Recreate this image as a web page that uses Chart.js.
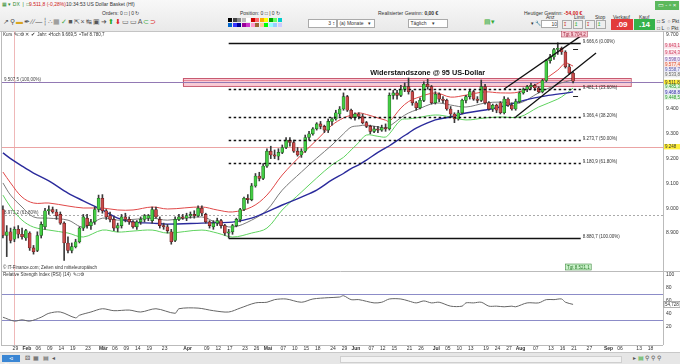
<!DOCTYPE html>
<html><head><meta charset="utf-8">
<script src="https://cdn.jsdelivr.net/npm/chart.js@4.4.1/dist/chart.umd.min.js"></script>
<style>
html,body{margin:0;padding:0;width:680px;height:364px;overflow:hidden;background:#fff;font-family:"Liberation Sans",Arial,sans-serif;}
#top{position:absolute;left:0;top:0;width:680px;height:31px;background:linear-gradient(#f8f8f8,#e9e9e9);border-bottom:1px solid #c4c4c4;}
.t{position:absolute;font-size:5px;line-height:6px;white-space:nowrap;color:#333;}
.box{position:absolute;background:#fff;border:1px solid #aaa;font-size:5px;line-height:6px;color:#333;}
.ic{position:absolute;font-size:7px;line-height:8px;white-space:nowrap;}
#wrap{position:absolute;left:0;top:31px;width:680px;height:321px;}
#bot{position:absolute;left:0;top:352px;width:680px;height:12px;background:#e6e6e6;border-top:1px solid #c8c8c8;}
</style></head><body>
<div id="top">
  <div class="t" style="left:2px;top:1px;color:#2a8a2a;">&#9638; &#9662; DX &nbsp;|&nbsp; &#9633;</div>
  <div class="t" style="left:29px;top:1px;color:#d02020;">9.511,8 (-0,28%)</div>
  <div class="t" style="left:66px;top:1px;">10:34:53 US Dollar Basket (Hf)</div>
  <div style="position:absolute;left:655px;top:1px;width:24px;height:9px;background:#5cb85c;color:#fff;font-size:6px;line-height:9px;text-align:center;">&#9645; - &#9643; &#215;</div>
  <div class="t" style="left:102px;top:10px;">Orders: 0 &#9633; | 0 &#8635;</div>
  <div class="t" style="left:240px;top:10px;">Position: 0 &#9633; | 0 &#8635;</div>
  <div class="t" style="left:378px;top:10px;">Realisierter Gewinn: <b>0,00 &#8364;</b></div>
  <div class="t" style="left:524px;top:10px;">Heutiger Gewinn: <b style="color:#d02020">-54,00 &#8364;</b></div>
  <div class="ic" style="left:3px;top:18px;color:#555;letter-spacing:1px;">&#8599;&#9906;<span style="color:#d9a520">&#9644;</span>&#10002;&#8725;&#8725;&#8212;&#9478;<span style="color:#888">&#8756;&#9638;</span><span style="color:#4a4">&#10003;</span>&#9632;&#8689;&#215;&#8633;&#9635;&#10140;<span style="color:#2a2">&#11014;</span><span style="color:#d22">&#11015;</span>&#9645;&#9645;A<span style="color:#4a4">&#8834;</span><span style="color:#d22">&#8835;</span></div>
  <div id="pal" style="position:absolute;left:228px;top:18px;width:54px;height:9px;"></div>
  <div class="box" style="left:308px;top:19px;width:26px;height:7px;text-align:right;padding-right:1px;">3 &#8597;</div>
  <div class="box" style="left:337px;top:19px;width:36px;height:7px;">&nbsp;(a) Monate &nbsp; &#9662;</div>
  <div class="box" style="left:408px;top:19px;width:38px;height:7px;">&nbsp;T&auml;glich &nbsp;&nbsp; &#9662;</div>
  <div class="ic" style="left:484px;top:18px;color:#3a3;">&#9636;&#9662;</div>
  <div class="t" style="left:531px;top:20px;">&#9662; &#128295;</div>
  <div class="t" style="left:546px;top:14px;">Anz</div>
  <div class="box" style="left:541px;top:20px;width:15px;height:6px;text-align:right;">10</div>
  <div class="t" style="left:574px;top:14px;">Limit</div>
  <div class="box" style="left:562px;top:20px;width:8px;height:7px;background:#eee;color:#c22;">&#8615;</div>
  <div class="box" style="left:573px;top:20px;width:8px;height:7px;background:#eee;color:#2a2;">&#8613;</div>
  <div class="t" style="left:595px;top:14px;">Stop</div>
  <div class="box" style="left:585px;top:20px;width:8px;height:7px;background:#eee;color:#c22;">&#8615;</div>
  <div class="box" style="left:596px;top:20px;width:8px;height:7px;background:#eee;color:#2a2;">&#8613;</div>
  <div class="t" style="left:613px;top:14px;">Verkauf</div>
  <div style="position:absolute;left:611px;top:19px;width:22px;height:11px;background:#e23b3b;color:#fff;font-size:8px;line-height:11px;text-align:center;font-weight:bold;">.09</div>
  <div class="t" style="left:639px;top:14px;">Kauf</div>
  <div style="position:absolute;left:634px;top:19px;width:21px;height:11px;background:#36b24a;color:#fff;font-size:8px;line-height:11px;text-align:center;font-weight:bold;">.14</div>
  <div class="t" style="left:657px;top:18px;">&#9633; S &nbsp;&#9675; Pkt</div>
  <div class="t" style="left:657px;top:25px;">&#9633; L &nbsp;&#9675; Pkt</div>
</div>
<div id="wrap"><canvas id="c" width="680" height="321"></canvas></div>
<div id="bot">
  <div style="position:absolute;left:2px;top:2px;width:18px;height:7px;background:#3a86d4;color:#fff;font-size:5px;line-height:7px;text-align:center;">&#8882; Share</div>
  <div class="ic" style="left:25px;top:1px;color:#555;font-size:6px;">&#9860; &nbsp;&#9638; &nbsp;&#9636; &nbsp;&#9666;</div>
  <div style="position:absolute;left:340px;top:3px;width:280px;height:5px;background:#f4f4f4;border:1px solid #cfcfcf;"></div>
  <div class="ic" style="left:633px;top:1px;color:#555;font-size:6px;">&#9656; <span style="color:#3a3">&#9636;</span> &#9906; &#9906; &#9906;</div>
</div>
<script>
// ---------- categories (trading days 2018) ----------
const dates = ['24.01','25.01','26.01','29.01','30.01','31.01',
'01.02','02.02','05.02','06.02','07.02','08.02','09.02','12.02','13.02','14.02','15.02','16.02','19.02','20.02','21.02','22.02','23.02','26.02','27.02','28.02',
'01.03','02.03','05.03','06.03','07.03','08.03','09.03','12.03','13.03','14.03','15.03','16.03','19.03','20.03','21.03','22.03','23.03','26.03','27.03','28.03','29.03','30.03',
'02.04','03.04','04.04','05.04','06.04','09.04','10.04','11.04','12.04','13.04','16.04','17.04','18.04','19.04','20.04','23.04','24.04','25.04','26.04','27.04','30.04',
'01.05','02.05','03.05','04.05','07.05','08.05','09.05','10.05','11.05','14.05','15.05','16.05','17.05','18.05','21.05','22.05','23.05','24.05','25.05','28.05','29.05','30.05','31.05',
'01.06','04.06','05.06','06.06','07.06','08.06','11.06','12.06','13.06','14.06','15.06','18.06','19.06','20.06','21.06','22.06','25.06','26.06','27.06','28.06','29.06',
'02.07','03.07','04.07','05.07','06.07','09.07','10.07','11.07','12.07','13.07','16.07','17.07','18.07','19.07','20.07','23.07','24.07','25.07','26.07','27.07','30.07','31.07',
'01.08','02.08','03.08','06.08','07.08','08.08','09.08','10.08','13.08','14.08','15.08','16.08','17.08','20.08','21.08','22.08','23.08','24.08','27.08','28.08','29.08','30.08','31.08',
'03.09','04.09','05.09','06.09','07.09','10.09','11.09','12.09','13.09','14.09','17.09','18.09','19.09','20.09','21.09'];

// ---------- daily candles (index points) ----------
const opens = [8995,8890,8905,8875,8915,8895,8880,8900,8840,8830, 8890,8925,8990,8995,8985,8975,8940,8860,8830,8845,
 8865,8920,8960,8930,8945,8995,9040,8990,8970,8955, 8920,8930,8965,8955,8945,8925,8945,8955,8960,8950,
 8995,8955,8930,8925,8905,8870,8955,8965,8960,8970, 8975,8970,9000,8975,8945,8925,8940,8950,8930,8900,
 8905,8930,8955,8995,9040,9035,9090,9130,9120,9170, 9230,9215,9210,9225,9245,9275,9265,9230,9215,9230,
 9285,9300,9320,9340,9330,9315,9350,9360,9380,9400, 9450,9395,9365,9380,9370,9345,9330,9310,9320,9315,
 9325,9320,9455,9465,9455,9480,9490,9470,9425,9405, 9435,9500,9490,9425,9460,9440,9435,9400,9380,9360,
 9385,9435,9450,9470,9440,9435,9490,9425,9400,9415, 9425,9385,9440,9415,9400,9430,9465,9480,9490,9495,
 9485,9470,9515,9595,9610,9640,9645,9630,9570,9545];
const highs = [9010,8930,8920,8925,8930,8920,8915,8905,8850,8905, 8945,9000,9010,9005,8995,8985,8945,8885,8860,8875,
 8925,8975,8975,8955,9005,9053,9055,8995,8985,8965, 8940,8975,8980,8965,8950,8950,8965,8975,8975,9005,
 9005,8965,8940,8935,8915,8965,8975,8975,8980,8985, 8990,9010,9010,8980,8950,8950,8960,8955,8935,8915,
 8935,8960,9000,9045,9055,9100,9140,9145,9180,9240, 9250,9235,9240,9255,9285,9285,9275,9245,9240,9295,
 9310,9325,9345,9350,9335,9360,9365,9395,9410,9465, 9455,9400,9385,9385,9380,9350,9335,9330,9330,9335,
 9340,9465,9475,9475,9495,9505,9525,9475,9430,9445, 9510,9520,9495,9470,9465,9450,9440,9410,9385,9395,
 9440,9455,9480,9475,9450,9517,9500,9430,9420,9420, 9430,9450,9445,9425,9440,9470,9485,9495,9505,9500,
 9490,9520,9600,9620,9645,9667,9650,9635,9580,9550];
const lows = [8880,8805,8860,8865,8880,8875,8870,8830,8815,8825, 8880,8915,8975,8980,8955,8935,8790,8820,8820,8840,
 8860,8910,8920,8915,8935,8985,8980,8955,8945,8910, 8905,8920,8945,8935,8920,8915,8935,8945,8950,8940,
 8960,8920,8915,8900,8855,8865,8950,8955,8950,8960, 8960,8965,8970,8940,8920,8915,8930,8920,8890,8880,
 8895,8925,8945,8990,9020,9030,9085,9110,9115,9165, 9200,9200,9195,9220,9240,9250,9225,9210,9205,9225,
 9275,9295,9315,9320,9305,9305,9335,9355,9370,9395, 9390,9360,9355,9360,9340,9325,9300,9305,9305,9310,
 9310,9315,9440,9440,9450,9470,9460,9415,9395,9400, 9430,9480,9420,9420,9430,9425,9395,9370,9345,9355,
 9380,9425,9440,9435,9425,9430,9420,9395,9390,9385, 9380,9380,9410,9395,9395,9425,9460,9470,9480,9475,
 9465,9465,9510,9585,9600,9620,9620,9565,9540,9505];
const closes = [8890,8905,8870,8915,8895,8885,8910,8840,8825,8890, 8935,8990,8995,8985,8970,8940,8860,8830,8845,8865,
 8920,8965,8930,8945,8995,9040,8990,8965,8955,8920, 8930,8965,8955,8945,8925,8945,8955,8970,8970,8995,
 8965,8930,8925,8910,8865,8955,8965,8960,8970,8975, 8970,9000,8980,8945,8930,8940,8950,8930,8900,8905,
 8930,8955,8995,9040,9035,9090,9130,9120,9170,9230, 9215,9210,9225,9245,9275,9265,9230,9215,9230,9285,
 9300,9320,9340,9330,9315,9350,9360,9385,9400,9450, 9395,9365,9380,9370,9345,9330,9310,9320,9315,9325,
 9320,9455,9465,9455,9480,9490,9470,9425,9405,9435, 9500,9490,9425,9460,9440,9435,9400,9380,9360,9385,
 9435,9450,9470,9440,9435,9490,9425,9400,9415,9395, 9385,9440,9415,9400,9430,9465,9480,9490,9495,9485,
 9470,9515,9595,9610,9640,9645,9630,9570,9545,9512];

// ---------- indicator lines, read at sampled days (index into dates) ----------
const maDayIdx = [0,2,5,8,12,17,21,26,30,34,39,43,52,56,60,65,69,73,78,82,86,89,91,93,95,98,100,101,104,106,108,113,117,121,126,130,135,140,145,147,149];
const maRed   = [9146,9102,9045,9021,9021,9009,9001,9001,8993,8993,9005,8997,9005,8993,8985,9005,9053,9134,9215,9275,9335,9364,9375,9384,9378,9364,9355,9350,9404,9430,9444,9465,9448,9456,9469,9465,9469,9505,9557,9585,9573];
const maGray  = [9102,9053,9005,8965,8960,8952,8924,8960,8952,8955,8960,8952,8965,8940,8924,8952,8993,9073,9146,9202,9255,9300,9327,9332,9335,9328,9323,9330,9365,9384,9396,9424,9416,9408,9424,9428,9424,9465,9500,9510,9517];
const maGreen = [9053,9005,8952,8924,8912,8900,8884,8912,8904,8908,8912,8900,8912,8900,8884,8900,8920,8993,9065,9122,9175,9205,9235,9265,9295,9290,9287,9300,9356,9360,9364,9376,9368,9356,9364,9368,9368,9408,9440,9460,9485];
const maBlue  = [9223,9200,9170,9142,9110,9061,9030,8993,8960,8944,8940,8936,8940,8942,8944,8960,8985,9013,9045,9073,9114,9140,9160,9175,9194,9225,9243,9252,9283,9303,9323,9356,9368,9384,9396,9408,9430,9448,9460,9464,9469];
const rsiDayIdx = [0,3,5,7,10,12,15,19,20,23,26,29,33,36,40,45,46,51,55,59,62,66,69,71,74,78,81,85,88,89,91,93,97,99,101,104,106,108,110,112,114,117,120,121,123,125,127,129,131,133,134,137,140,142,144,146,147,149];
const rsiVals  = [35,29,31,29,35,41,43,34,38,43,48,45,46,43,48,41,48,49,45,43,49,57,58,62,63,58,63,65,66,68,62,62,57,58,63,63,60,57,60,57,58,52,52,57,57,58,52,52,51,52,51,57,57,62,62,63,58,54.7];

// ---------- axis ticks ----------
const tickDates = ['29.01','01.02','06.02','09.02','14.02','19.02','23.02','01.03','06.03','09.03','14.03','19.03','23.03','02.04','09.04','12.04','17.04','23.04','26.04','01.05','07.05','10.05','15.05','18.05','24.05','29.05','01.06','07.06','12.06','15.06','21.06','26.06','02.07','05.07','10.07','13.07','19.07','24.07','27.07','01.08','07.08','13.08','16.08','21.08','27.08','03.09','06.09','13.09','18.09'];
const tickTexts = ['29','Feb','06','09','14','19','23','Mär','06','09','14','19','23','Apr','09','12','17','23','26','Mai','07','10','15','18','24','29','Jun','07','12','15','21','26','Jul','05','10','13','19','24','27','Aug','07','13','16','21','27','Sep','06','13','18'];
const monthTexts = ['Feb','Mär','Apr','Mai','Jun','Jul','Aug','Sep'];
const priceTicks = [8900,9000,9100,9200,9300,9400,9500,9600,9700];
const rsiTicks = [20,40,60,80,100];

// ---------- drawn studies ----------
const fibFrom = '17.04', fibTo = '23.08';
const fibLevels = [9666.6, 9481.1, 9366.4, 9273.7, 9180.9, 8880.7];
const fibPcts = ['0.00%','23.60%','38.20%','50.00%','61.80%','100.00%'];
const zoneFrom = '30.03', zoneTo = '11.09', zoneLow = 9493, zoneHigh = 9525;
const zoneText = 'Widerstandszone @ 95 US-Dollar';
const zoneTextAt = '07.06', zoneTextPrice = 9537;
const levelPurple = 9507.5, levelPurpleText = '9.507,5 (100,00%)';
const levelRed = 9248;
const levelGray = 8973.2, levelGrayText = '8.973,2 (61,80%)';
const vLineDate = '29.01';
const channelUpper = [['26.07', 9481], ['24.08', 9705]];
const channelLower = [['31.07', 9368], ['29.08', 9626]];
const rsiBands = [70, 30];
const rightTags = [
  {v:9654, t:'9.643,1', c:'#d04060', b:'#fbe3ea'},
  {v:9626, t:'9.624,3', c:'#d04060', b:'#fbe3ea'},
  {v:9598, t:'9.598,0', c:'#7a5aa8', b:'#efe8f7'},
  {v:9579, t:'9.577,4', c:'#e05030', b:'#fbe6e0'},
  {v:9558, t:'9.558,7', c:'#5a5aa8', b:'#eaeaf7'},
  {v:9538, t:'9.533,8', c:'#666', b:'#efefef'},
  {v:9507, t:'9.511,8', c:'#333', b:'#ffef3a'},
  {v:9489, t:'9.485,3', c:'#2a9a2a', b:'#e4f6e4'},
  {v:9467, t:'9.468,8', c:'#3030a0', b:'#e6e6f7'},
  {v:9448, t:'9.448,5', c:'#2a9a2a', b:'#e4f6e4'},
  {v:9248, t:'9.248', c:'#333', b:'#ffef3a'}
];
const tgtTop = {date:'16.08', v:9704.2, t:'Tgt 9.704,2'};
const tgtBottom = {date:'17.08', v:8521.1, t:'Tgt 8.521,1'};
const orderMarks = [['21.08', 9640], ['21.08', 9452]];

const de1 = v => v.toLocaleString('de-DE',{minimumFractionDigits:1,maximumFractionDigits:1});
const de0 = v => v.toLocaleString('de-DE',{maximumFractionDigits:0});
const pts = (idx, vals) => idx.map((d,i)=>({x:dates[d], y:vals[i]}));
const up = i => closes[i] >= opens[i];
const noPad = s => { s.paddingTop = 0; s.paddingBottom = 0; s.paddingLeft = 0; s.paddingRight = 0; };

const studies = {
  id:'studies',
  beforeDatasetsDraw(ch){
    const {ctx, chartArea:ca, scales} = ch; const x = scales.x, yP = scales.yP, yR = scales.yR;
    ctx.save();
    const vx = Math.round(x.getPixelForValue(dates.indexOf(vLineDate)))+0.5;
    ctx.strokeStyle='#efb8b8'; ctx.lineWidth=1; ctx.beginPath(); ctx.moveTo(vx,ca.top); ctx.lineTo(vx,ca.bottom); ctx.stroke();
    const zx1 = x.getPixelForValue(dates.indexOf(zoneFrom)), zx2 = x.getPixelForValue(dates.indexOf(zoneTo));
    const zy1 = yP.getPixelForValue(zoneHigh), zy2 = yP.getPixelForValue(zoneLow);
    ctx.fillStyle='rgba(244,160,178,0.55)'; ctx.fillRect(zx1,zy1,zx2-zx1,zy2-zy1);
    ctx.strokeStyle='#c85a70'; ctx.lineWidth=1; ctx.strokeRect(Math.round(zx1)+0.5,Math.round(zy1)+0.5,zx2-zx1,zy2-zy1);
    ctx.strokeStyle='rgba(220,90,110,0.6)'; const zm=(zy1+zy2)/2;
    ctx.beginPath(); ctx.moveTo(zx1,Math.round(zm-2)+0.5); ctx.lineTo(zx2,Math.round(zm-2)+0.5); ctx.stroke();
    const hline=(v,col,dash,yS)=>{const yy=Math.round(yS.getPixelForValue(v))+0.5; ctx.strokeStyle=col; ctx.setLineDash(dash); ctx.beginPath(); ctx.moveTo(ca.left,yy); ctx.lineTo(ca.right,yy); ctx.stroke(); ctx.setLineDash([]); return yy;};
    hline(levelRed,'#eba4a4',[],yP);
    const gy = hline(levelGray,'#aaaaaa',[2,2],yP);
    const py = hline(levelPurple,'#9279b4',[],yP);
    ctx.fillStyle='#444'; ctx.font='4.5px "Liberation Sans"'; ctx.textBaseline='bottom'; ctx.textAlign='left';
    ctx.fillText(levelPurpleText, ca.left+3, py-0.5);
    ctx.fillText(levelGrayText, ca.left+3, gy-0.5);
    rsiBands.forEach(v=>hline(v,'#8c8cc8',[],yR));
    ctx.restore();
  },
  afterDatasetsDraw(ch){
    const {ctx, chartArea:ca, scales} = ch; const x = scales.x, yP = scales.yP, yR = scales.yR;
    ctx.save();
    const fx1 = x.getPixelForValue(dates.indexOf(fibFrom)), fx2 = x.getPixelForValue(dates.indexOf(fibTo));
    fibLevels.forEach((v,i)=>{
      const yy = Math.round(yP.getPixelForValue(v))+0.5;
      ctx.strokeStyle='#111'; ctx.lineWidth= 1.3;
      ctx.setLineDash((i===0||i===fibLevels.length-1)?[]:[2.5,2.5]);
      ctx.beginPath(); ctx.moveTo(fx1,yy); ctx.lineTo(fx2,yy); ctx.stroke(); ctx.setLineDash([]);
      ctx.fillStyle='#333'; ctx.font='4.5px "Liberation Sans"'; ctx.textAlign='left'; ctx.textBaseline='bottom';
      ctx.fillText(de1(v)+' ('+fibPcts[i]+')', fx2+2, yy+1);
    });
    [channelUpper, channelLower].forEach(seg=>{
      ctx.strokeStyle='#111'; ctx.lineWidth=1.3; ctx.beginPath();
      seg.forEach((p,k)=>{const px=x.getPixelForValue(dates.indexOf(p[0])), pyy=yP.getPixelForValue(p[1]); k?ctx.lineTo(px,pyy):ctx.moveTo(px,pyy);});
      ctx.stroke();
    });
    orderMarks.forEach(p=>{const px=x.getPixelForValue(dates.indexOf(p[0])), pyy=Math.round(yP.getPixelForValue(p[1]))+0.5; ctx.strokeStyle='#222'; ctx.lineWidth=1; ctx.beginPath(); ctx.moveTo(px,pyy); ctx.lineTo(px+5,pyy); ctx.stroke();});
    ctx.fillStyle='#111'; ctx.font='bold 7.3px "Liberation Sans"'; ctx.textAlign='left'; ctx.textBaseline='alphabetic';
    ctx.fillText(zoneText, x.getPixelForValue(dates.indexOf(zoneTextAt)), yP.getPixelForValue(zoneTextPrice));
    const tag=(o,bg,fg)=>{
      const px=x.getPixelForValue(dates.indexOf(o.date)); let pyy=yP.getPixelForValue(o.v);
      pyy=Math.max(yP.top+3,Math.min(yP.bottom-4,pyy));
      ctx.font='4.5px "Liberation Sans"'; const w=ctx.measureText(o.t).width+3;
      ctx.fillStyle=bg; ctx.fillRect(px,pyy-3,w,6); ctx.strokeStyle=fg; ctx.lineWidth=0.5; ctx.strokeRect(px,pyy-3,w,6);
      ctx.fillStyle=fg; ctx.textBaseline='middle'; ctx.fillText(o.t,px+1.5,pyy+0.3);
    };
    tag(tgtTop,'#f7c9d2','#a02840');
    tag(tgtBottom,'#c9f0c9','#287a28');
    ctx.strokeStyle='#bbb'; ctx.lineWidth=1;
    ctx.beginPath();
    ctx.moveTo(ca.left+0.5,ca.top); ctx.lineTo(ca.left+0.5,ca.bottom);
    ctx.moveTo(Math.round(ca.right)+0.5,ca.top); ctx.lineTo(Math.round(ca.right)+0.5,ca.bottom);
    ctx.moveTo(ca.left,Math.round(yR.top)+0.5); ctx.lineTo(ch.width,Math.round(yR.top)+0.5);
    ctx.moveTo(ca.left,Math.round(ca.bottom)+0.5); ctx.lineTo(ca.right,Math.round(ca.bottom)+0.5);
    ctx.stroke();
    ctx.fillStyle='#333'; ctx.font='4.5px "Liberation Sans"'; ctx.textAlign='left'; ctx.textBaseline='top';
    ctx.fillText('Kurs \u270E\u25A1\u2699 \u2715 \u2714  Jahr: \u2022Hoch 9.669,5  \u2022Tief 8.780,7', ca.left+2, ca.top+2);
    ctx.fillText('Relative Strength Index (RSI) (14)  \u270E\u25A1\u2699', ca.left+2, yR.top+2);
    ctx.textBaseline='bottom';
    ctx.fillText('\u00A9 IT-Finance.com; Zeiten sind mitteleurop\u00E4isch', ca.left+2, yR.top-1);
    ctx.font='4.5px "Liberation Sans"'; ctx.textBaseline='middle';
    rightTags.forEach(o=>{
      const yy=yP.getPixelForValue(o.v);
      ctx.fillStyle=o.b; ctx.fillRect(ca.right+1,yy-2.7,16,5.4);
      ctx.fillStyle=o.c; ctx.fillText(o.t,ca.right+2,yy+0.2);
    });
    const ry=yR.getPixelForValue(rsiVals[rsiVals.length-1]);
    ctx.fillStyle='#fff'; ctx.fillRect(ca.right+1,ry-3,16,6);
    ctx.strokeStyle='#666'; ctx.lineWidth=0.5; ctx.strokeRect(ca.right+1,ry-3,16,6);
    ctx.fillStyle='#333'; ctx.fillText('54,728',ca.right+2,ry+0.2);
    ctx.restore();
  }
};

new Chart(document.getElementById('c'), {
  type:'bar',
  data:{
    labels: dates,
    datasets:[
      {type:'line', data:pts(maDayIdx,maBlue), yAxisID:'yP', borderColor:'#2b2b9c', borderWidth:1.4, pointRadius:0, tension:0.35, order:5},
      {type:'line', data:pts(maDayIdx,maGreen), yAxisID:'yP', borderColor:'#5fd35f', borderWidth:1, pointRadius:0, tension:0.35, order:5},
      {type:'line', data:pts(maDayIdx,maGray), yAxisID:'yP', borderColor:'#7a7a7a', borderWidth:1, pointRadius:0, tension:0.35, order:5},
      {type:'line', data:pts(maDayIdx,maRed), yAxisID:'yP', borderColor:'#e04848', borderWidth:1, pointRadius:0, tension:0.35, order:5},
      {label:'wick', data: lows.map((l,i)=>[l,highs[i]]), yAxisID:'yP', backgroundColor:'#3a3a3a', barThickness:1, grouped:false, order:2},
      {label:'body', data: opens.map((o,i)=>[o,closes[i]]), yAxisID:'yP', grouped:false, order:1, barThickness:3, borderSkipped:false, borderWidth:0.6,
        backgroundColor: c=> up(c.dataIndex)?'#44cc44':'#c84a4a', borderColor: c=> up(c.dataIndex)?'#1f5f1f':'#5a1a1a'},
      {type:'line', data:pts(rsiDayIdx,rsiVals), yAxisID:'yR', borderColor:'#666', borderWidth:1, pointRadius:0, tension:0.3, order:5}
    ]
  },
  options:{
    responsive:false, animation:false, devicePixelRatio:1,
    layout:{padding:{left:1,right:0,top:0,bottom:0}},
    plugins:{legend:{display:false}, tooltip:{enabled:false}},
    scales:{
      x:{type:'category', offset:true, grid:{display:false, drawTicks:false}, border:{display:false},
        ticks:{autoSkip:false, maxRotation:0, minRotation:0, padding:1, labelOffset:1, color:'#333',
          font: c=>{const t=c.tick&&c.tick.label; return {size:5, weight: monthTexts.includes(t)?'bold':'normal', family:'Liberation Sans'};},
          callback:(v,i)=>{const k=tickDates.indexOf(dates[i]); return k<0?'':tickTexts[k];}},
        afterFit:s=>{s.height=7; noPad(s);}},
      yP:{position:'right', stack:'panes', stackWeight:240, min:8747, max:9714.5, grid:{display:false, drawTicks:false}, border:{display:false},
        afterBuildTicks:s=>{s.ticks=priceTicks.map(v=>({value:v}));},
        ticks:{autoSkip:false, padding:3, color:'#333', font:{size:5, family:'Liberation Sans'}, callback:v=>de0(v)},
        afterFit:s=>{s.width=17; noPad(s);}},
      yR:{position:'right', stack:'panes', stackWeight:74, min:-7.7, max:106, grid:{display:false, drawTicks:false}, border:{display:false},
        afterBuildTicks:s=>{s.ticks=rsiTicks.map(v=>({value:v}));},
        ticks:{autoSkip:false, padding:3, color:'#333', font:{size:5, family:'Liberation Sans'}},
        afterFit:s=>{s.width=17; noPad(s);}}
    }
  },
  plugins:[studies]
});
const palCols=['#000','#444','#888','#bbb','#fff','#c00','#f66','#fa0','#ff0','#0a0','#6f6','#0cc','#06c','#33f','#009','#909','#c3c','#f9c','#963','#fc9','#0f0','#9ff','#9cf','#ccf'];
const pal=document.getElementById('pal');
palCols.forEach((c,i)=>{const d=document.createElement('div');d.style.cssText='position:absolute;width:4px;height:4px;background:'+c+';left:'+((i%12)*4.5)+'px;top:'+(Math.floor(i/12)*4.5)+'px;';pal.appendChild(d);});
</script>
</body></html>
